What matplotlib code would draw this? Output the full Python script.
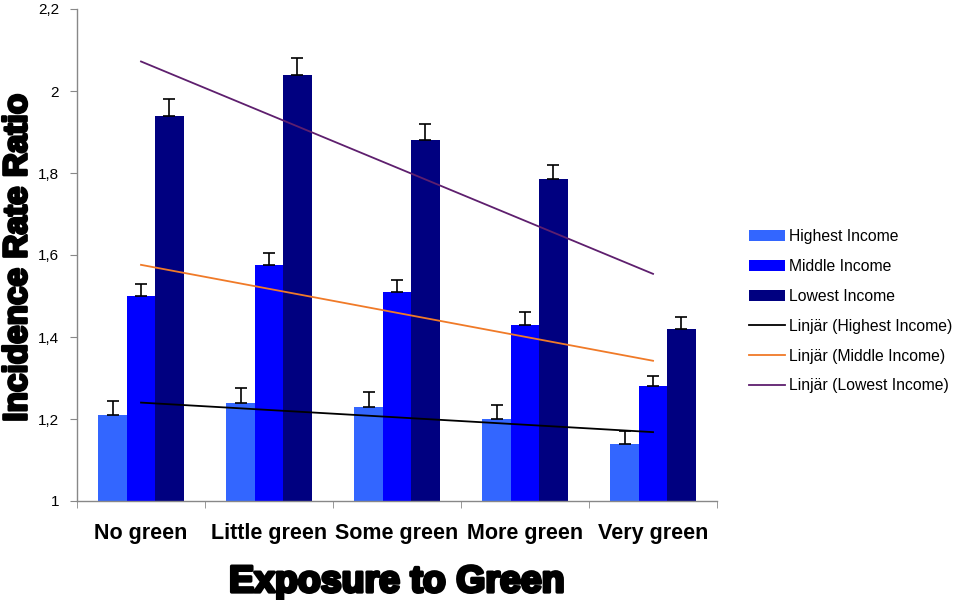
import matplotlib
matplotlib.use("Agg")
import matplotlib.pyplot as plt
import matplotlib.patheffects as pe
import numpy as np

categories = ["No green", "Little green", "Some green", "More green", "Very green"]
series_names = ["Highest Income", "Middle Income", "Lowest Income"]
highest = [1.21, 1.24, 1.23, 1.20, 1.14]
middle = [1.50, 1.575, 1.51, 1.43, 1.28]
lowest = [1.94, 2.04, 1.88, 1.785, 1.42]
highest_err = [0.035, 0.036, 0.035, 0.035, 0.03]
middle_err = [0.03, 0.03, 0.03, 0.03, 0.025]
lowest_err = [0.04, 0.04, 0.04, 0.035, 0.03]
yticks = [1, 1.2, 1.4, 1.6, 1.8, 2, 2.2]
ytick_labels = ["1", "1,2", "1,4", "1,6", "1,8", "2", "2,2"]

bar_colors = ["#3366FF", "#0000FF", "#000080"]
trend_colors = ["#000000", "#F07A28", "#5E1F6E"]

plt.rcParams['font.family'] = ['Liberation Sans', 'DejaVu Sans']

fig = plt.figure(figsize=(9.59, 6.0), dpi=100)
ax = fig.add_axes([0.0803, 0.165, 0.6674, 0.82])

x = np.arange(len(categories))
w = 0.222
data = [highest, middle, lowest]
errs = [highest_err, middle_err, lowest_err]
handles = []
for i, (vals, e, c, name) in enumerate(zip(data, errs, bar_colors, series_names)):
    pos = x + (i - 1) * w
    b = ax.bar(pos, np.array(vals) - 1, width=w, bottom=1, color=c, label=name, zorder=2)
    ax.errorbar(pos, vals, yerr=[np.zeros(len(e)), e], fmt='none', ecolor='black',
                elinewidth=1.2, capsize=4, capthick=1.2, zorder=3)
    handles.append(b)

for vals, c, name in zip(data, trend_colors, series_names):
    k, b0 = np.polyfit(x, vals, 1)
    l, = ax.plot(x, k * x + b0, color=c, lw=1.3, zorder=4, label=f"Linjär ({name})")
    handles.append(l)

ax.set_xlim(-0.5, 4.5)
ax.set_ylim(1, 2.2)
ax.set_yticks(yticks)
ax.set_yticklabels(ytick_labels, fontsize=11)
ax.set_xticks(x)
ax.set_xticklabels(categories, fontsize=15.5, fontweight='bold')
ax.tick_params(axis='x', length=0, pad=16)
ax.set_xticks(np.arange(-0.5, 5.0, 1.0), minor=True)
ax.tick_params(axis='x', which='minor', length=5, color='#888888', direction='out')
ax.tick_params(axis='y', length=5, color='#888888', direction='out', pad=8)
for s in ['top', 'right']:
    ax.spines[s].set_visible(False)
for s in ['left', 'bottom']:
    ax.spines[s].set_color('#888888')
    ax.spines[s].set_linewidth(1.0)

ax.set_xlabel("Exposure to Green", fontsize=27, fontweight='bold',
              path_effects=[pe.withStroke(linewidth=2.4, foreground='black')])
ax.xaxis.set_label_coords(0.5, -0.128)
ax.set_ylabel("Incidence Rate Ratio", fontsize=24, fontweight='bold',
              path_effects=[pe.withStroke(linewidth=2.0, foreground='black')])
ax.yaxis.set_label_coords(-0.068, 0.495)

leg = fig.legend(handles=handles, loc='upper left', bbox_to_anchor=(0.774, 0.629),
                 frameon=False, fontsize=11.3, handlelength=2.3, handletextpad=0.25,
                 labelspacing=0.95, borderaxespad=0)

fig.savefig("out.png", dpi=100)
